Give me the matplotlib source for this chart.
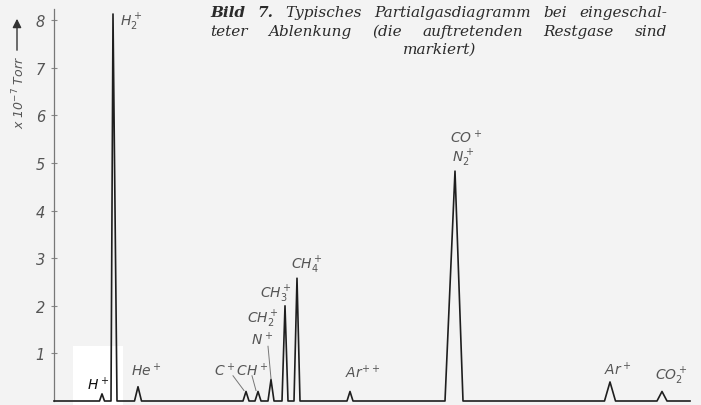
import numpy as np
import matplotlib.pyplot as plt
from matplotlib.patches import Rectangle

# Partialgasdiagramm: Lage der Peaks im Durchlauf und Höhe (x 10^-7 Torr)
ions = ['H+', 'H2+', 'He+', 'C+', 'CH+', 'N+/CH2+', 'CH3+', 'CH4+', 'Ar++', 'CO+/N2+', 'Ar+', 'CO2+']
peak_pos = [102, 113, 138, 246, 258, 271, 285, 297, 350, 455, 610, 662]
peak_height = [0.15, 8.13, 0.3, 0.2, 0.2, 0.45, 2.0, 2.58, 0.2, 4.83, 0.4, 0.2]
# Flankenbreite links / rechts
peak_wl = [2.5, 2.0, 3.5, 3.0, 3.0, 3.0, 3.0, 3.0, 3.0, 10.0, 5.5, 5.0]
peak_wr = [2.5, 4.0, 3.5, 3.0, 3.0, 3.0, 3.0, 3.0, 3.0, 8.0, 5.5, 5.0]
scan_start, scan_end = 54, 690
y_ticks = [1, 2, 3, 4, 5, 6, 7, 8]

W, H = 701, 406
px_per_unit = 47.6
y0_px = 402

# Kurve aus den Peaks zusammensetzen
xs = [scan_start]
ys = [0.0]
for p, h, wl, wr in zip(peak_pos, peak_height, peak_wl, peak_wr):
    xs += [p - wl, p, p + wr]
    ys += [0.0, h, 0.0]
xs.append(scan_end)
ys.append(0.0)

fig = plt.figure(figsize=(W / 100, H / 100), dpi=100)
fig.patch.set_facecolor('#f3f3f3')
ax = fig.add_axes([0, 0, 1, 1])
ax.set_facecolor('none')
ax.set_xlim(0, W)
ax.set_ylim(-(H - y0_px) / px_per_unit, y0_px / px_per_unit)

# weißes Feld um H+ (Retusche im Original)
ax.add_patch(Rectangle((73, -0.2), 50, 1.36, facecolor='white', edgecolor='none', zorder=1))

ax.plot(xs, ys, color='#1e1e1e', lw=1.2, zorder=3)

# Achse
for s in ['top', 'right', 'bottom']:
    ax.spines[s].set_visible(False)
ax.spines['left'].set_position(('data', 54))
ax.spines['left'].set_bounds(0, (y0_px - 10) / px_per_unit)
ax.spines['left'].set_color('#777777')
ax.spines['left'].set_linewidth(0.9)
ax.set_xticks([])
ax.set_yticks(y_ticks)
ax.set_yticklabels([str(t) for t in y_ticks], fontstyle='italic', color='#555555', fontsize=10.5)
ax.tick_params(axis='y', direction='inout', length=5, width=0.8, color='#888888', pad=4)

# y-Beschriftung mit Pfeil
ax.text(19, (y0_px - 92) / px_per_unit, r'x 10$^{-7}$ Torr', rotation=90, ha='center', va='center',
        color='#555555', fontsize=9, fontstyle='italic')
ax.annotate('', xy=(17, (y0_px - 17) / px_per_unit), xytext=(17, (y0_px - 54) / px_per_unit),
            arrowprops=dict(arrowstyle='-|>', color='#333333', lw=1.0, mutation_scale=13))

# Peak-Beschriftungen
plt.rcParams['mathtext.fontset'] = 'dejavusans'
plt.rcParams['mathtext.default'] = 'it'
lab = dict(ha='center', va='center', fontsize=10, color='#555555', zorder=4)
ax.text(98, 0.36, r'$H^+$', **dict(lab, color='#111111'))
ax.text(131, 7.98, r'$H_2^+$', **lab)
ax.text(146, 0.65, r'$He^+$', **lab)
ax.text(241, 0.65, r'$C^+CH^+$', **lab)
ax.text(262, 1.30, r'$N^+$', **lab)
ax.text(263, 1.74, r'$CH_2^+$', **lab)
ax.text(276, 2.26, r'$CH_3^+$', **lab)
ax.text(307, 2.88, r'$CH_4^+$', **lab)
ax.text(363, 0.61, r'$Ar^{++}$', **lab)
ax.text(466, 5.55, r'$CO^+$', **lab)
ax.text(463, 5.12, r'$N_2^+$', **lab)
ax.text(618, 0.67, r'$Ar^+$', **lab)
ax.text(671, 0.53, r'$CO_2^+$', **lab)

# Hinweislinien
leader = dict(color='#777777', lw=0.7, zorder=2)
ax.plot([233, 244], [0.53, 0.22], **leader)
ax.plot([252, 256], [0.53, 0.22], **leader)
ax.plot([268, 271], [1.15, 0.47], **leader)

# Bildunterschrift, Blocksatz
renderer = fig.canvas.get_renderer()


def justify(words, x0, x1, y_px):
    texts = []
    for w, bold in words:
        t = fig.text(0, 1 - y_px / H, w, ha='left', va='center', family='DejaVu Serif',
                     fontstyle='italic', fontweight='bold' if bold else 'normal',
                     fontsize=11, color='#2a2a2a')
        texts.append(t)
    widths = [t.get_window_extent(renderer).width for t in texts]
    gap = (x1 - x0 - sum(widths)) / (len(texts) - 1)
    x = x0
    for t, w in zip(texts, widths):
        t.set_x(x / W)
        x += w + gap


line1 = [('Bild', True), ('7.', True), ('Typisches', False), ('Partialgasdiagramm', False),
         ('bei', False), ('eingeschal-', False)]
line2 = [('teter', False), ('Ablenkung', False), ('(die', False), ('auftretenden', False),
         ('Restgase', False), ('sind', False)]
justify(line1, 210, 667, 13)
justify(line2, 210, 667, 32)
fig.text(440 / W, 1 - 50 / H, 'markiert)', ha='center', va='center', family='DejaVu Serif',
         fontstyle='italic', fontsize=11, color='#2a2a2a')

plt.savefig('out.png', dpi=100, facecolor=fig.get_facecolor())
